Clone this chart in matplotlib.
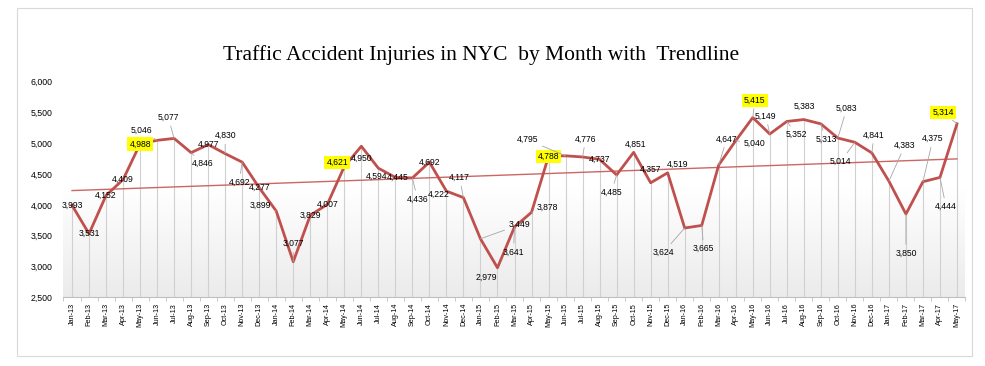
import numpy as np
import pandas as pd
import matplotlib
matplotlib.use('Agg')
import matplotlib.pyplot as plt
from matplotlib.patches import Rectangle
from matplotlib.colors import LinearSegmentedColormap

# monthly injuries, Jan-2013 .. May-2017
months = list(pd.date_range('2013-01-01', periods=53, freq='MS').strftime('%b-%y'))
injuries = [3993, 3531, 4152, 4409, 4988, 5046, 5077, 4846, 4977, 4830, 4692, 4277,
            3899, 3077, 3829, 4007, 4621, 4950, 4594, 4445, 4436, 4692, 4222, 4117,
            3449, 2979, 3641, 3878, 4788, 4795, 4776, 4737, 4485, 4851, 4357, 4519,
            3624, 3665, 4647, 5040, 5415, 5149, 5352, 5383, 5313, 5083, 5014, 4841,
            4383, 3850, 4375, 4444, 5314]
highlight = ['May-13', 'May-14', 'May-15', 'May-16', 'May-17']

# label placement in pixels (dx right, dy down) relative to each point
label_off = [(0, 0), (0, 0), (0, 0), (0, 0), (0, 0), (-16, -10), (-6, -21), (11, 11), (0, 0), (0, -18), (-3, 20), (0, 0),
             (-16, -6), (0, -18), (0, 0), (0, 0), (-7, -4), (0, 12), (-2, 8), (2, 0), (5, 21), (0, 0), (-8, 3), (-4, -20),
             (39, -14), (-11, 10), (-1, 25), (16, -5), (0, 0), (-38, -16), (3, -18), (0, 0), (-5, 17), (2, -8), (0, -13), (10, -9),
             (-21, 24), (2, 23), (8, -26), (19, 3), (2, -17), (-4, -18), (10, 13), (1, -13), (5, 15), (9, -30), (-14, 19), (2, -18),
             (16, -36), (0, 39), (10, -43), (6, 29), (-14, -11)]

red = '#C0504D'
fig = plt.figure(figsize=(9.85, 3.66), dpi=100)
fig.patches.append(Rectangle((17 / 985, 1 - 356 / 366), 955 / 985, 348 / 366, transform=fig.transFigure,
                             fill=False, edgecolor='#D9D9D9', linewidth=0.8))

ax = fig.add_axes([63.5 / 985, 1 - 297.3 / 366, 902 / 985, 215.8 / 366])
x = np.arange(len(months))

# soft grey gradient behind the plot
cmap = LinearSegmentedColormap.from_list('bg', ['#FFFFFF', '#FFFFFF', '#EBEBEB'])
grad = np.linspace(0, 1, 256).reshape(-1, 1)
ax.imshow(grad, aspect='auto', cmap=cmap, extent=(-0.5, len(months) - 0.5, 2500, 6000),
          origin='upper', zorder=0)

ax.vlines(x, 2500, injuries, color='#D0D0D0', linewidth=0.8, zorder=1)
ax.plot(x, injuries, color=red, linewidth=2.0, zorder=3)

# linear trendline
k, b = np.polyfit(x, injuries, 1)
ax.plot(x, k * x + b, color='#CD6663', linewidth=1.0, zorder=2)

for i, v in enumerate(injuries):
    dx, dy = label_off[i]
    kw = {}
    if months[i] in highlight:
        kw['bbox'] = dict(boxstyle='square,pad=0.25', facecolor='#FFFF00', edgecolor='none')
    if np.hypot(dx, dy) > 15:
        kw['arrowprops'] = dict(arrowstyle='-', color='#A6A6A6', linewidth=0.6, shrinkA=1, shrinkB=0)
    ax.annotate(f'{v:,}', (i, v), xytext=(dx, -dy), textcoords='offset pixels',
                ha='center', va='center', fontsize=6.2, family='Liberation Sans', zorder=5, **kw)

ax.set_xlim(-0.5, len(months) - 0.5)
ax.set_ylim(2500, 6000)
ax.set_yticks(np.arange(2500, 6001, 500))
ax.set_yticklabels([f'{t:,}' for t in range(2500, 6001, 500)], fontsize=6.3, family='Liberation Sans')
ax.tick_params(axis='y', length=0, pad=8)
ax.set_xticks(x)
ax.set_xticklabels(months, rotation=90, fontsize=5.2, family='Liberation Sans')
ax.set_xticks(np.arange(-0.5, len(months), 1), minor=True)
ax.tick_params(axis='x', which='major', length=0, pad=4)
ax.tick_params(axis='x', which='minor', length=3, color='#BFBFBF')
for s in ['left', 'right', 'top']:
    ax.spines[s].set_visible(False)
ax.spines['bottom'].set_color('#BFBFBF')

fig.text(481 / 985, 1 - 55 / 366, 'Traffic Accident Injuries in NYC  by Month with  Trendline',
         ha='center', va='center', fontsize=15.5, family='Liberation Serif')

fig.savefig('out.png', dpi=100)
